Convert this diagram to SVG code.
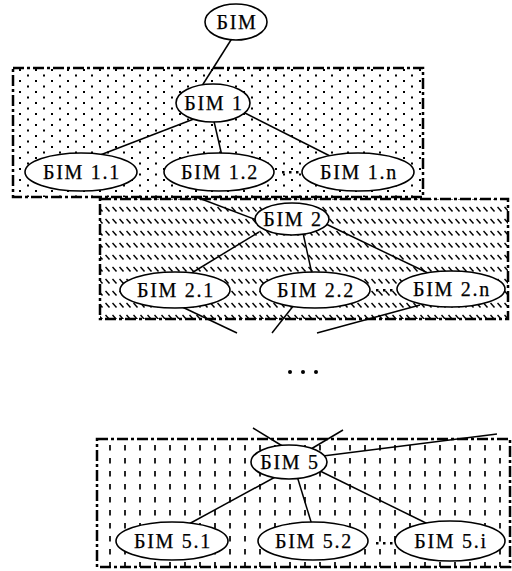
<svg xmlns="http://www.w3.org/2000/svg" width="512" height="571" viewBox="0 0 512 571">
<style>
.box{stroke:#000;stroke-width:2.5;stroke-dasharray:11 3 3 3}
.n ellipse{fill:#fff;stroke:#000;stroke-width:1.6}
.n text{font-family:"Liberation Serif","DejaVu Serif",serif;font-size:20px;letter-spacing:1.7px;text-anchor:middle;fill:#000;stroke:#000;stroke-width:0.25}
#connectors line{stroke:#000;stroke-width:1.5}
.dot{fill:#000}
</style>
<defs>
<pattern id="pDots" width="16" height="11" patternUnits="userSpaceOnUse">
<rect x="3" y="3" width="2" height="2" fill="#000"/>
<rect x="11" y="8.5" width="2" height="2" fill="#000"/>
</pattern>
<pattern id="pHatch" width="7" height="12" patternUnits="userSpaceOnUse">
<path d="M0.5,3 L4.5,7.5" stroke="#000" stroke-width="1.5"/>
</pattern>
<pattern id="pVdash" width="15" height="13" patternUnits="userSpaceOnUse">
<line x1="5" y1="3" x2="5" y2="8.5" stroke="#000" stroke-width="1.7"/>
</pattern>
</defs>
<rect width="512" height="571" fill="#fff"/>
<g id="frames">
<rect class="box" x="13" y="68" width="410" height="129" fill="url(#pDots)"/>
<rect class="box" x="100" y="199" width="408" height="120" fill="url(#pHatch)"/>
<rect class="box" x="97" y="439" width="413" height="128" fill="url(#pVdash)"/>
</g>
<g id="connectors">
<line x1="236" y1="32" x2="200" y2="89"/>
<line x1="199" y1="117" x2="95" y2="157"/>
<line x1="213" y1="117" x2="222" y2="156"/>
<line x1="243" y1="112" x2="330" y2="156"/>
<line x1="196" y1="197" x2="262" y2="222"/>
<line x1="259" y1="232" x2="190" y2="274"/>
<line x1="303" y1="233" x2="312" y2="274"/>
<line x1="326" y1="224" x2="430" y2="274"/>
<line x1="178" y1="305" x2="237" y2="333"/>
<line x1="294" y1="305" x2="272" y2="333"/>
<line x1="420" y1="305" x2="317" y2="333"/>
<line x1="253" y1="428" x2="284" y2="447"/>
<line x1="343" y1="430" x2="311" y2="449"/>
<line x1="497" y1="434" x2="323" y2="456"/>
<line x1="277" y1="476" x2="187" y2="525"/>
<line x1="297" y1="476" x2="312" y2="525"/>
<line x1="320" y1="471" x2="428" y2="524"/>
<rect class="dot" x="282" y="171" width="2.5" height="2.5"/>
<rect class="dot" x="289" y="171" width="2.5" height="2.5"/>
<rect class="dot" x="296" y="171" width="2.5" height="2.5"/>
<rect class="dot" x="376" y="289" width="2.5" height="2.5"/>
<rect class="dot" x="383" y="289" width="2.5" height="2.5"/>
<rect class="dot" x="390" y="289" width="2.5" height="2.5"/>
<rect class="dot" x="376" y="542" width="2.5" height="2.5"/>
<rect class="dot" x="383" y="542" width="2.5" height="2.5"/>
<rect class="dot" x="390" y="542" width="2.5" height="2.5"/>
</g>
<g id="ellipsis">
<circle cx="290" cy="372" r="2"/>
<circle cx="303" cy="372" r="2"/>
<circle cx="316" cy="372" r="2"/>
</g>
<g id="bim" class="n"><ellipse cx="236" cy="22" rx="31" ry="18"/><text x="237" y="29">БІМ</text></g>
<g id="bim1" class="n"><ellipse cx="213" cy="103" rx="37" ry="19"/><text x="214" y="110">БІМ 1</text></g>
<g id="bim1_1" class="n"><ellipse cx="81" cy="172" rx="56" ry="19"/><text x="82" y="179">БІМ 1.1</text></g>
<g id="bim1_2" class="n"><ellipse cx="219" cy="172" rx="55" ry="19"/><text x="220" y="179">БІМ 1.2</text></g>
<g id="bim1_n" class="n"><ellipse cx="358" cy="172" rx="56" ry="19"/><text x="359" y="179">БІМ 1.n</text></g>
<g id="bim2" class="n"><ellipse cx="292" cy="219" rx="37" ry="16"/><text x="293" y="226">БІМ 2</text></g>
<g id="bim2_1" class="n"><ellipse cx="175" cy="290" rx="55" ry="18"/><text x="176" y="297">БІМ 2.1</text></g>
<g id="bim2_2" class="n"><ellipse cx="315" cy="290" rx="55" ry="18"/><text x="316" y="297">БІМ 2.2</text></g>
<g id="bim2_n" class="n"><ellipse cx="451" cy="289" rx="54" ry="18"/><text x="452" y="296">БІМ 2.n</text></g>
<g id="bim5" class="n"><ellipse cx="289" cy="462" rx="38" ry="17"/><text x="290" y="469">БІМ 5</text></g>
<g id="bim5_1" class="n"><ellipse cx="172" cy="541" rx="56" ry="19"/><text x="173" y="548">БІМ 5.1</text></g>
<g id="bim5_2" class="n"><ellipse cx="313" cy="541" rx="55" ry="19"/><text x="314" y="548">БІМ 5.2</text></g>
<g id="bim5_i" class="n"><ellipse cx="450" cy="541" rx="55" ry="20"/><text x="451" y="548">БІМ 5.i</text></g>
</svg>
